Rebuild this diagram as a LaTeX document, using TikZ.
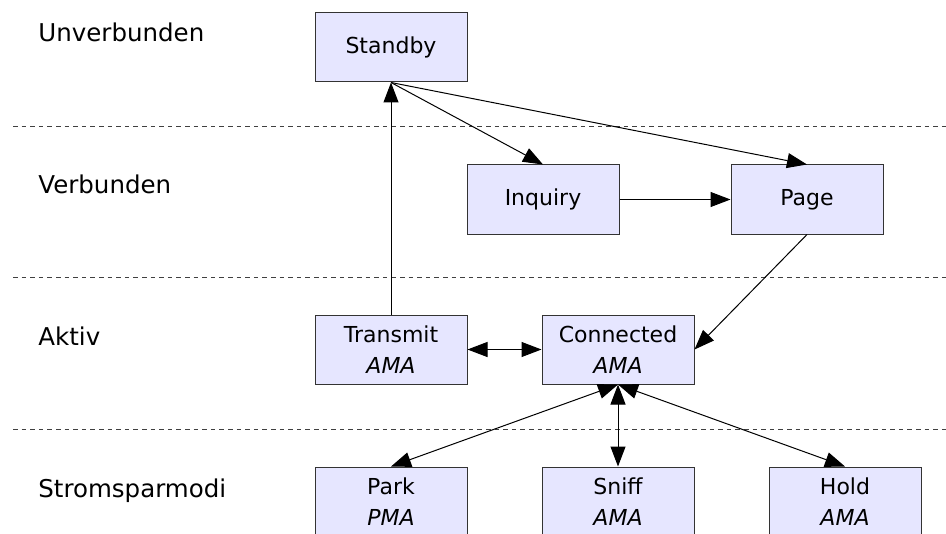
\documentclass[tikz,border=0pt]{standalone}
\usepackage{fontspec}
\setmainfont{DejaVu Sans}
\usetikzlibrary{arrows.meta}
\definecolor{modefill}{HTML}{E6E6FF}
\newcommand{\layerLine}[1]{
  \draw[layer] (13,#1) -- (946,#1)
}

\begin{document}
\begin{tikzpicture}[x=0.5pt,y=-0.5pt,
  mode/.style={draw=black!80,fill=modefill,line width=0.5pt,minimum width=76pt,minimum height=34.5pt,inner sep=0pt,align=center,font=\fontsize{11}{15.5}\selectfont},
  layername/.style={anchor=base west,inner sep=0pt,font=\fontsize{12.25}{14}\selectfont},
  layer/.style={black!75,line width=0.5pt,dash pattern=on 2.3pt off 2pt},
  link/.style={line width=0.5pt,-{Triangle[length=10pt,width=7.5pt]}},
  twoway/.style={line width=0.5pt,{Triangle[length=10pt,width=7.5pt]}-{Triangle[length=10pt,width=7.5pt]}}]
  \useasboundingbox (0,0) rectangle (946,534);
  \clip (0,0) rectangle (946,534);

  \layerLine{126.5};
  \layerLine{277.5};
  \layerLine{429};

  \node[layername] (unverbunden) at (38,42) {Unverbunden};
  \node[layername] (verbunden) at (38,193) {Verbunden};
  \node[layername] (aktiv) at (38,345) {Aktiv};
  \node[layername] (stromsparmodi) at (38,497) {Stromsparmodi};

  \node[mode] (standby) at (391,47.5) {Standby};
  \node[mode] (inquiry) at (543,199.5) {Inquiry};
  \node[mode] (page) at (807,199.5) {Page};
  \node[mode] (transmit) at (391,349.5) {Transmit\\\textit{AMA}};
  \node[mode] (connected) at (618,349.5) {Connected\\\textit{AMA}};
  \node[mode] (park) at (391,501.5) {Park\\\textit{PMA}};
  \node[mode] (sniff) at (618,501.5) {Sniff\\\textit{AMA}};
  \node[mode] (hold) at (845,501.5) {Hold\\\textit{AMA}};

  \draw[link] (transmit.north) -- (standby.south);
  \draw[link] (standby.south) -- (inquiry.north);
  \draw[link] (standby.south) -- (page.north);
  \draw[link] (inquiry.east) -- (page.west);
  \draw[link] (page.south) -- (connected.east);
  \draw[twoway] (transmit.east) -- (connected.west);
  \draw[twoway] (connected.south) -- (park.north);
  \draw[twoway] (connected.south) -- (sniff.north);
  \draw[twoway] (connected.south) -- (hold.north);
\end{tikzpicture}
\end{document}
